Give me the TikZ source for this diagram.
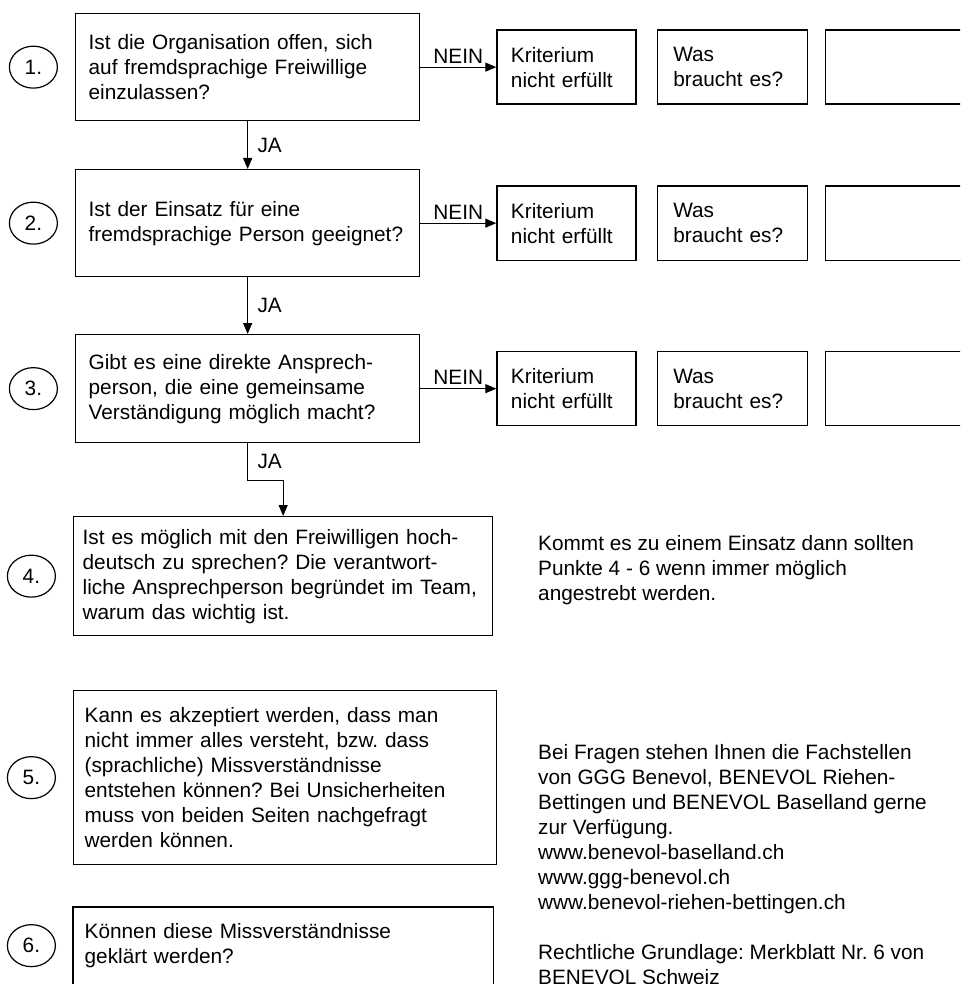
\documentclass[tikz,border=0pt]{standalone}
\usepackage{fontspec}
\setmainfont{Liberation Sans}
\usetikzlibrary{positioning,arrows.meta,shapes.geometric}
\frenchspacing

\begin{document}
\begin{tikzpicture}[x=1pt, y=-1pt,
    every node/.style={font=\fontsize{20.8}{25}\selectfont},
    frage/.style={draw, line width=1.3pt, align=left, inner xsep=13pt, inner ysep=0pt, anchor=north west},
    nummer/.style={draw, ellipse, line width=1.2pt, minimum width=48pt, minimum height=42pt, inner sep=0pt},
    seitbox/.style={draw, line width=1.3pt, align=left, minimum height=74pt, inner xsep=14pt, inner ysep=0pt, text width=#1},
    seitbox/.default=111pt,
    pfeil/.style={line width=1.2pt, -{Triangle[length=11pt, width=9pt]}}]
  \useasboundingbox (0, 0) rectangle (960, 984);
  \clip (0, 0) rectangle (960, 984);

  % Fragen
  \node [frage, text width=318pt, minimum height=107pt] (q1) at (75, 13)
    {Ist die Organisation offen, sich\\auf fremdsprachige Freiwillige\\einzulassen?};
  \node [frage, text width=318pt, minimum height=107pt] (q2) at (75, 169)
    {Ist der Einsatz für eine\\fremdsprachige Person geeignet?};
  \node [frage, text width=318pt, minimum height=108pt] (q3) at (75, 334)
    {Gibt es eine direkte Ansprech-\\person, die eine gemeinsame\\Verständigung möglich macht?};
  \node [frage, inner xsep=9pt, text width=401pt, minimum height=119pt] (q4) at (73, 516)
    {Ist es möglich mit den Freiwilligen hoch-\\deutsch zu sprechen? Die verantwort-\\liche Ansprechperson begründet im Team,\\warum das wichtig ist.};
  \node [frage, inner xsep=11pt, text width=401pt, minimum height=174pt] (q5) at (73, 690)
    {Kann es akzeptiert werden, dass man\\nicht immer alles versteht, bzw. dass\\(sprachliche) Missverständnisse\\entstehen können? Bei Unsicherheiten\\muss von beiden Seiten nachgefragt\\werden können.};
  \node [frage, draw=none, inner xsep=11pt, text width=397pt, minimum height=76pt] (q6) at (73, 907)
    {Können diese Missverständnisse\\geklärt werden?};
  \draw [line width=1.3pt] (q6.north west) rectangle ([yshift=-60pt]q6.south east);

  % Nummern
  \foreach \i in {1,...,6}
    \node [nummer, left=17pt of q\i] (n\i) {\i.};

  % NEIN-Zeilen
  \foreach \i in {1,2,3} {
    \node [seitbox, right=76pt of q\i] (k\i) {Kriterium\\nicht erfüllt};
    \node [seitbox=118pt, inner xsep=16pt, right=20pt of k\i] (w\i) {Was\\braucht es?};
    \node [seitbox=130pt, right=17pt of w\i] (e\i) {};
    \draw [pfeil] (q\i.east) -- node [above] {NEIN} (k\i.west);
  }

  % JA
  \draw [pfeil] (q1.south) -- node [right, xshift=6pt] {JA} (q2.north);
  \draw [pfeil] (q2.south) -- node [right, xshift=6pt] {JA} (q3.north);
  \draw [pfeil] (q3.south) -- node [right, xshift=6pt] {JA} ++(0, 37) -| (q4.north);

  % Hinweise
  \node [anchor=north west, align=left, inner sep=0pt] (hinweis) at (538, 535)
    {Kommt es zu einem Einsatz dann sollten\\Punkte 4 - 6 wenn immer möglich\\angestrebt werden.};
  \node [anchor=north west, align=left, inner sep=0pt] (kontakt) at (538, 744)
    {Bei Fragen stehen Ihnen die Fachstellen\\von GGG Benevol, BENEVOL Riehen-\\Bettingen und BENEVOL Baselland gerne\\zur Verfügung.\\www.benevol-baselland.ch\\www.ggg-benevol.ch\\www.benevol-riehen-bettingen.ch\\[25pt]Rechtliche Grundlage: Merkblatt Nr. 6 von\\BENEVOL Schweiz};
\end{tikzpicture}
\end{document}
